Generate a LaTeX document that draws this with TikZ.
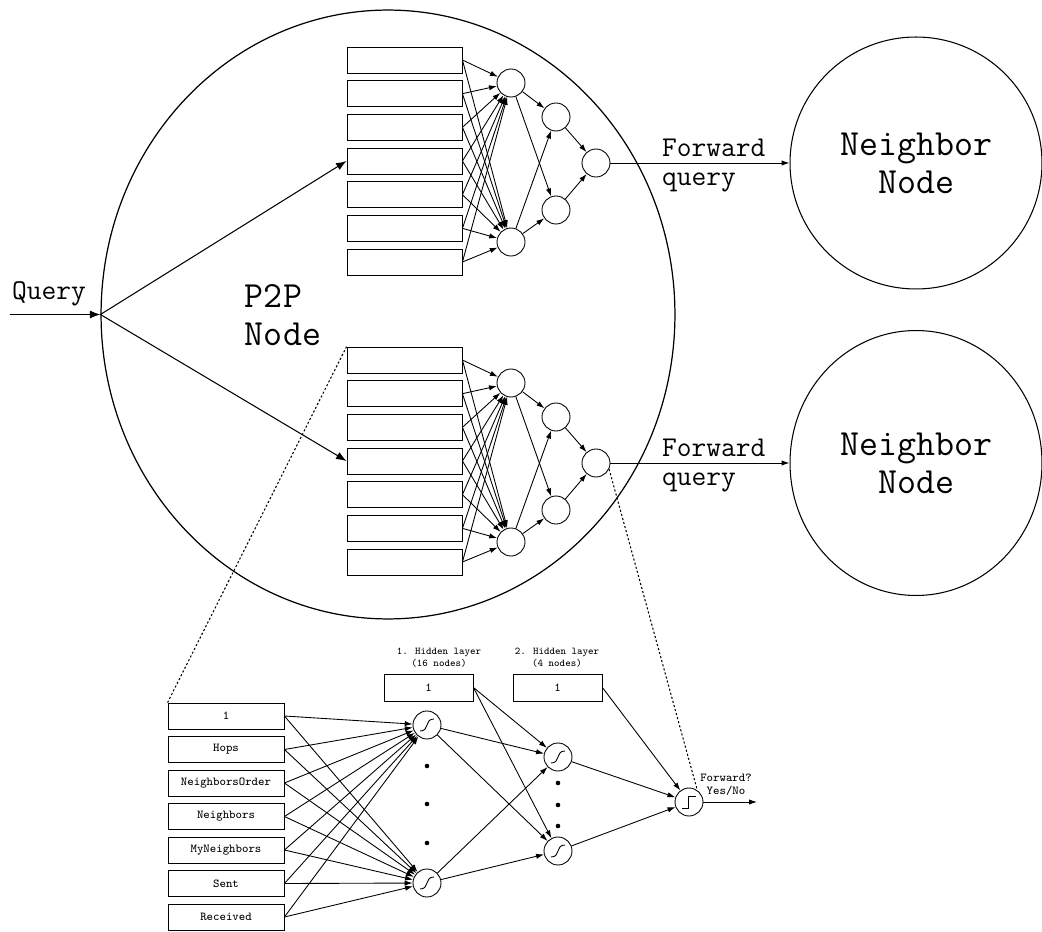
\documentclass[tikz,border=0pt]{standalone}
\usetikzlibrary{shapes.geometric,arrows.meta}

\begin{document}
\begin{tikzpicture}[x=0.02cm, y=-0.02cm,
        every node/.style={font=\ttfamily},
        hostnode/.style={ellipse, draw, line width=0.7pt, minimum width=11.48cm, minimum height=12.18cm},
        peer/.style={ellipse, draw, line width=0.6pt, align=center, font=\ttfamily\fontsize{21}{21.5}\selectfont},
        biglabel/.style={align=left, font=\ttfamily\fontsize{16.3}{16.5}\selectfont},
        smalltext/.style={align=center, font=\ttfamily\fontsize{6.9}{7.2}\selectfont},
        tinytext/.style={align=center, font=\ttfamily\fontsize{5.9}{6.9}\selectfont},
        cell/.style={rectangle, draw, line width=0.5pt, inner sep=0pt, minimum width=2.3cm, minimum height=0.52cm},
        feature/.style={cell, smalltext, minimum width=2.32cm},
        biasbox/.style={cell, smalltext, minimum width=1.78cm, minimum height=0.54cm},
        unit/.style={circle, draw, line width=0.5pt, inner sep=0pt, minimum size=0.56cm},
        sigmoid/.style={unit, path picture={
            \draw[line width=0.5pt] ([shift={(-7,6)}]path picture bounding box.center)
              .. controls +(10,0) and +(-10,0) .. ([shift={(7,-6)}]path picture bounding box.center);}},
        stepunit/.style={unit, path picture={
            \draw[line width=0.5pt] ([shift={(-7,6)}]path picture bounding box.center)
              -- ++(6,0) -- ++(0,-12) -- ++(8,0);}},
        link/.style={-{Latex[length=4.5pt,width=3pt]}, line width=0.5pt},
        bigarrow/.style={-{Latex[length=6pt,width=4.5pt]}, line width=0.6pt},
        probe/.style={dash pattern=on 1.2pt off 1.2pt, line width=0.6pt}
    ]
    \useasboundingbox (0,0) rectangle (1042,932);

    % P2P node and its neighbours
    \node[hostnode] (p2p) at (388,314.5) {};
    \node[font=\ttfamily\fontsize{21}{21.5}\selectfont, align=left] (p2ptext) at (283,315) {P2P\\Node};
    \node[peer, minimum width=5.04cm, minimum height=5.04cm] (peer-u) at (916,163) {Neighbor\\Node};
    \node[peer, minimum width=5.04cm, minimum height=5.3cm] (peer-l) at (916,463) {Neighbor\\Node};

    % incoming query
    \coordinate (qstart) at (10,314.5);
    \node[biglabel, anchor=south west] (qtext) at (6,312) {Query};
    \draw[bigarrow] (qstart) -- (p2p.west);

    % the two small networks inside the P2P node
    \foreach \n/\dy in {u/0, l/300} {
        \foreach \i in {1,...,7}
            \node[cell] (\n-c\i) at (404.5, {60+(\i-1)*33.67+\dy}) {};
        \node[unit] (\n-h1) at (511, 83+\dy) {};
        \node[unit] (\n-h2) at (511, 242+\dy) {};
        \node[unit] (\n-z1) at (556, 117+\dy) {};
        \node[unit] (\n-z2) at (556, 210+\dy) {};
        \node[unit] (\n-o) at (596, 163+\dy) {};
        \foreach \i in {1,...,7} {
            \draw[link] (\n-c\i.east) -- (\n-h1);
            \draw[link] (\n-c\i.east) -- (\n-h2);
        }
        \foreach \h in {1,2} {
            \draw[link] (\n-h\h) -- (\n-z1);
            \draw[link] (\n-h\h) -- (\n-z2);
            \draw[link] (\n-z\h) -- (\n-o);
        }
        \draw[bigarrow] (p2p.west) -- (\n-c4.west);
        \draw[link] (\n-o) -- (peer-\n);
        \node[biglabel, anchor=west] (fq-\n) at (656, 166+\dy) {Forward\\query};
    }

    % detailed network
    \foreach \i/\t in {1/1, 2/Hops, 3/NeighborsOrder, 4/Neighbors, 5/MyNeighbors, 6/Sent, 7/Received}
        \node[feature] (in\i) at (226, {716+(\i-1)*33.5}) {\t};

    \node[tinytext] (title1) at (439,658) {1. Hidden layer\\(16 nodes)};
    \node[tinytext] (title2) at (557,658) {2. Hidden layer\\(4 nodes)};
    \node[biasbox] (bias1) at (428.5,687.5) {1};
    \node[biasbox] (bias2) at (557.5,687.5) {1};

    \node[sigmoid] (hs1) at (427,725) {};
    \node[sigmoid] (hs2) at (427,883) {};
    \node[sigmoid] (hz1) at (558,757) {};
    \node[sigmoid] (hz2) at (558,851) {};
    \node[stepunit] (outn) at (689,802) {};
    \coordinate (outend) at (757,802);

    \foreach \y in {766,804,843}
        \fill (427,\y) circle (1.3pt);
    \foreach \y in {783,805,826}
        \fill (558,\y) circle (1.3pt);

    \foreach \i in {1,...,7} {
        \draw[link] (in\i.east) -- (hs1);
        \draw[link] (in\i.east) -- (hs2);
    }
    \foreach \h in {1,2} {
        \draw[link] (hs\h) -- (hz1);
        \draw[link] (hs\h) -- (hz2);
        \draw[link] (hz\h) -- (outn);
    }
    \draw[link] (bias1.east) -- (hz1);
    \draw[link] (bias1.east) -- (hz2);
    \draw[link] (bias2.east) -- (outn);
    \draw[link] (outn) -- (outend);
    \node[smalltext] (answer) at (726,785) {Forward?\\Yes/No};

    % zoom lines
    \draw[probe] (l-c1.north west) -- (in1.north west);
    \draw[probe] (l-o.-25) -- (outn.55);

\end{tikzpicture}
\end{document}
